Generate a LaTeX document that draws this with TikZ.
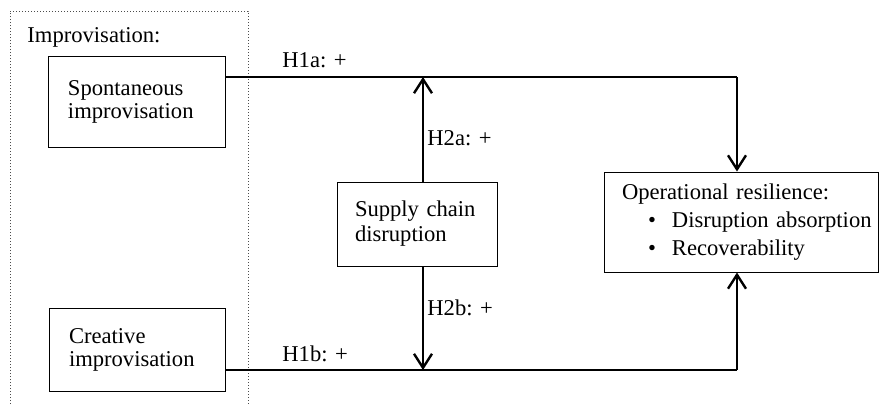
\documentclass[tikz,border=0pt]{standalone}
\usepackage{fontspec}
\setmainfont{Liberation Serif}
\usetikzlibrary{arrows.meta}
\begin{document}
\begin{tikzpicture}[x=0.5pt, y=-0.5pt,
    font=\fontsize{11.3}{11.5}\selectfont,
    box/.style={draw, line width=0.5pt, rectangle, align=left, inner xsep=10pt, inner ysep=0pt},
    hline/.style={draw, line width=0.6pt},
    vline/.style={draw, line width=1.2pt, -{Straight Barb[length=7pt, width=9pt, line width=1.2pt]}},
    hyp/.style={anchor=base west, inner sep=0pt}]
    \useasboundingbox (0,0) rectangle (880,404);

    % Group frame
    \draw[densely dotted, line width=0.5pt, black!70] (10,404) |- (248,11) -- (248,404);
    \node[hyp] (grp) at (27,42) {Improvisation:};

    % Nodes
    \node[box, text width=68.5pt, minimum height=45.5pt] (spont) at (136.5,101.5) {Spontaneous\\improvisation};
    \node[box, text width=68pt, minimum height=41.5pt] (creat) at (137,349.5) {Creative\\improvisation};
    \node[box, text width=62pt, inner xsep=9pt, minimum height=42pt,
          font=\fontsize{11.3}{12.5}\selectfont] (supply) at (417,224) {Supply chain\\disruption};
    \node[box, text width=119pt, inner xsep=9pt, minimum height=50pt,
          font=\fontsize{11.3}{14}\selectfont] (oper) at (741,222)
          {\begin{tabular}{@{}l@{}}
           Operational resilience:\\
           \hspace*{13pt}\makebox[12pt][l]{\textbullet}Disruption absorption\\
           \hspace*{13pt}\makebox[12pt][l]{\textbullet}Recoverability
           \end{tabular}};

    % Corner points
    \coordinate (topT) at (423,77);
    \coordinate (botT) at (423,370);
    \coordinate (rT) at (737,77);
    \coordinate (rB) at (737,370);

    % Connection
    \draw[hline] (spont.east |- topT) -- (rT);
    \draw[hline] (creat.east |- botT) -- (rB);
    \draw[vline] (rT) -- (rT |- oper.north);
    \draw[vline] (rB) -- (rB |- oper.south);
    \draw[vline] (supply.north -| topT) -- (topT);
    \draw[vline] (supply.south -| botT) -- (botT);

    % Hypotheses
    \node[hyp] (h1a) at (282,67) {H1a: +};
    \node[hyp] (h2a) at (427,145) {H2a: +};
    \node[hyp] (h2b) at (427,315) {H2b: +};
    \node[hyp] (h1b) at (282,361) {H1b: +};
\end{tikzpicture}
\end{document}
